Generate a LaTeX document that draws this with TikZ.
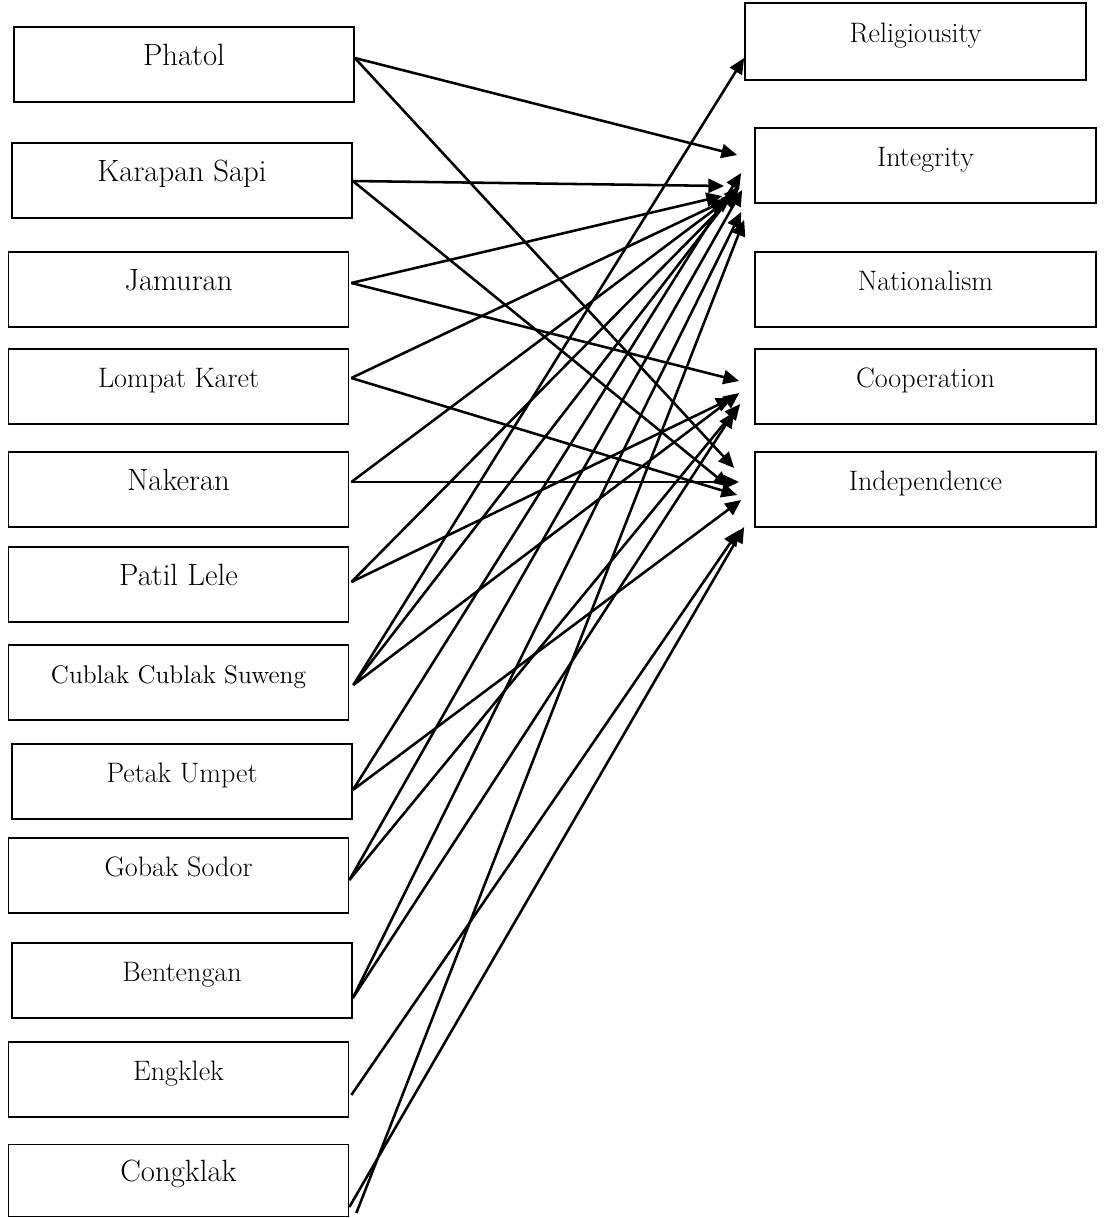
\documentclass[tikz,border=0pt]{standalone}
\usepackage{fontspec}
\usetikzlibrary{arrows.meta,calc}
\tikzset{gamepanel/.style={
  game/.style={draw=black, line width=1pt, minimum width=6.8cm, minimum height=1.5cm, inner sep=0pt,
    text height=1.5ex, text depth=1.3ex, font=\fontsize{17.5}{20}\selectfont},
  gamemid/.style={game, font=\fontsize{16}{19}\selectfont},
  gamesm/.style={game, font=\fontsize{14.5}{17}\selectfont},
  value/.style={draw=black, line width=1pt, minimum width=6.82cm, minimum height=1.5cm, inner sep=0pt,
    text height=1.5ex, text depth=1.3ex, font=\fontsize{16}{19}\selectfont},
  arr/.style={-{Triangle[length=9pt, width=8pt]}, line width=1.45pt},
}}

\begin{document}
\begin{tikzpicture}[gamepanel, x=0.02cm, y=-0.02cm]
\useasboundingbox (0,0) rectangle (1103,1218);

% =====================================================================
% left column: the traditional games
% =====================================================================
\node[game]    (phatol)   at (184,64.5)  {Phatol};
\node[game]    (karapan)  at (182,180.5) {Karapan Sapi};
\node[game]    (jamuran)  at (178.5,289.5) {Jamuran};
\node[gamemid] (lompat)   at (178.5,386.5) {Lompat Karet};
\node[game]    (nakeran)  at (178.5,489.5) {Nakeran};
\node[game]    (patil)    at (178.5,584.5) {Patil Lele};
\node[gamesm]  (cublak)   at (178.5,682.5) {Cublak Cublak Suweng};
\node[gamemid] (petak)    at (182,781.5) {Petak Umpet};
\node[gamemid] (gobak)    at (178.5,875.5) {Gobak Sodor};
\node[gamemid] (benteng)  at (182,980.5) {Bentengan};
\node[gamemid] (engklek)  at (178.5,1079.5) {Engklek};
\node[game, minimum height=1.44cm] (congklak) at (178.5,1180.5) {Congklak};

% =====================================================================
% right column: the character values
% =====================================================================
\node[value, minimum height=1.54cm] (relig) at (915.5,41.5) {Religiousity};
\node[value] (integ)  at (925.5,165.5) {Integrity};
\node[value] (nation) at (925.5,289.5) {Nationalism};
\node[value] (coop)   at (925.5,386.5) {Cooperation};
\node[value] (indep)  at (925.5,489.5) {Independence};

% =====================================================================
% links game -> value (offsets in px from the box sides)
% =====================================================================
\foreach \s/\sx/\sy/\t/\tx/\ty in {
  phatol/0/-6.5/integ/-17/-10.5, phatol/0/-6.5/indep/-20/-21.5,
  karapan/0/0.5/integ/-30/20.5, karapan/0/0.5/indep/-25/-2.5,
  jamuran/2/-6.5/integ/-32/30.5, jamuran/2/-6.5/coop/-15/-5.5,
  lompat/2/-8.5/integ/-28/34.5, lompat/2/-8.5/indep/-17/5.5,
  nakeran/2/-7.5/integ/-23/31.5, nakeran/2/-7.5/indep/-15/-7.5,
  patil/2/-2.5/integ/-17/26.5, patil/2/-2.5/coop/-22/11.5,
  cublak/4/2.5/relig/0/16.5, cublak/4/2.5/integ/-15/20.5, cublak/4/2.5/coop/-15/6.5,
  petak/0/8.5/integ/-13/7.5, petak/0/8.5/indep/-13/10.5,
  gobak/0/4.5/integ/-12/24.5, gobak/0/4.5/coop/-14/17.5,
  benteng/0/17.5/integ/-13/46.5, benteng/0/17.5/coop/-20/25.5,
  engklek/2/15.5/indep/-15/40.5,
  congklak/7/32.5/integ/-10/54.5, congklak/0/26.5/indep/-10/37.5}{
  \draw[arr] ($(\s.east)+(\sx,\sy)$) -- ($(\t.west)+(\tx,\ty)$);
}

\end{tikzpicture}
\end{document}
